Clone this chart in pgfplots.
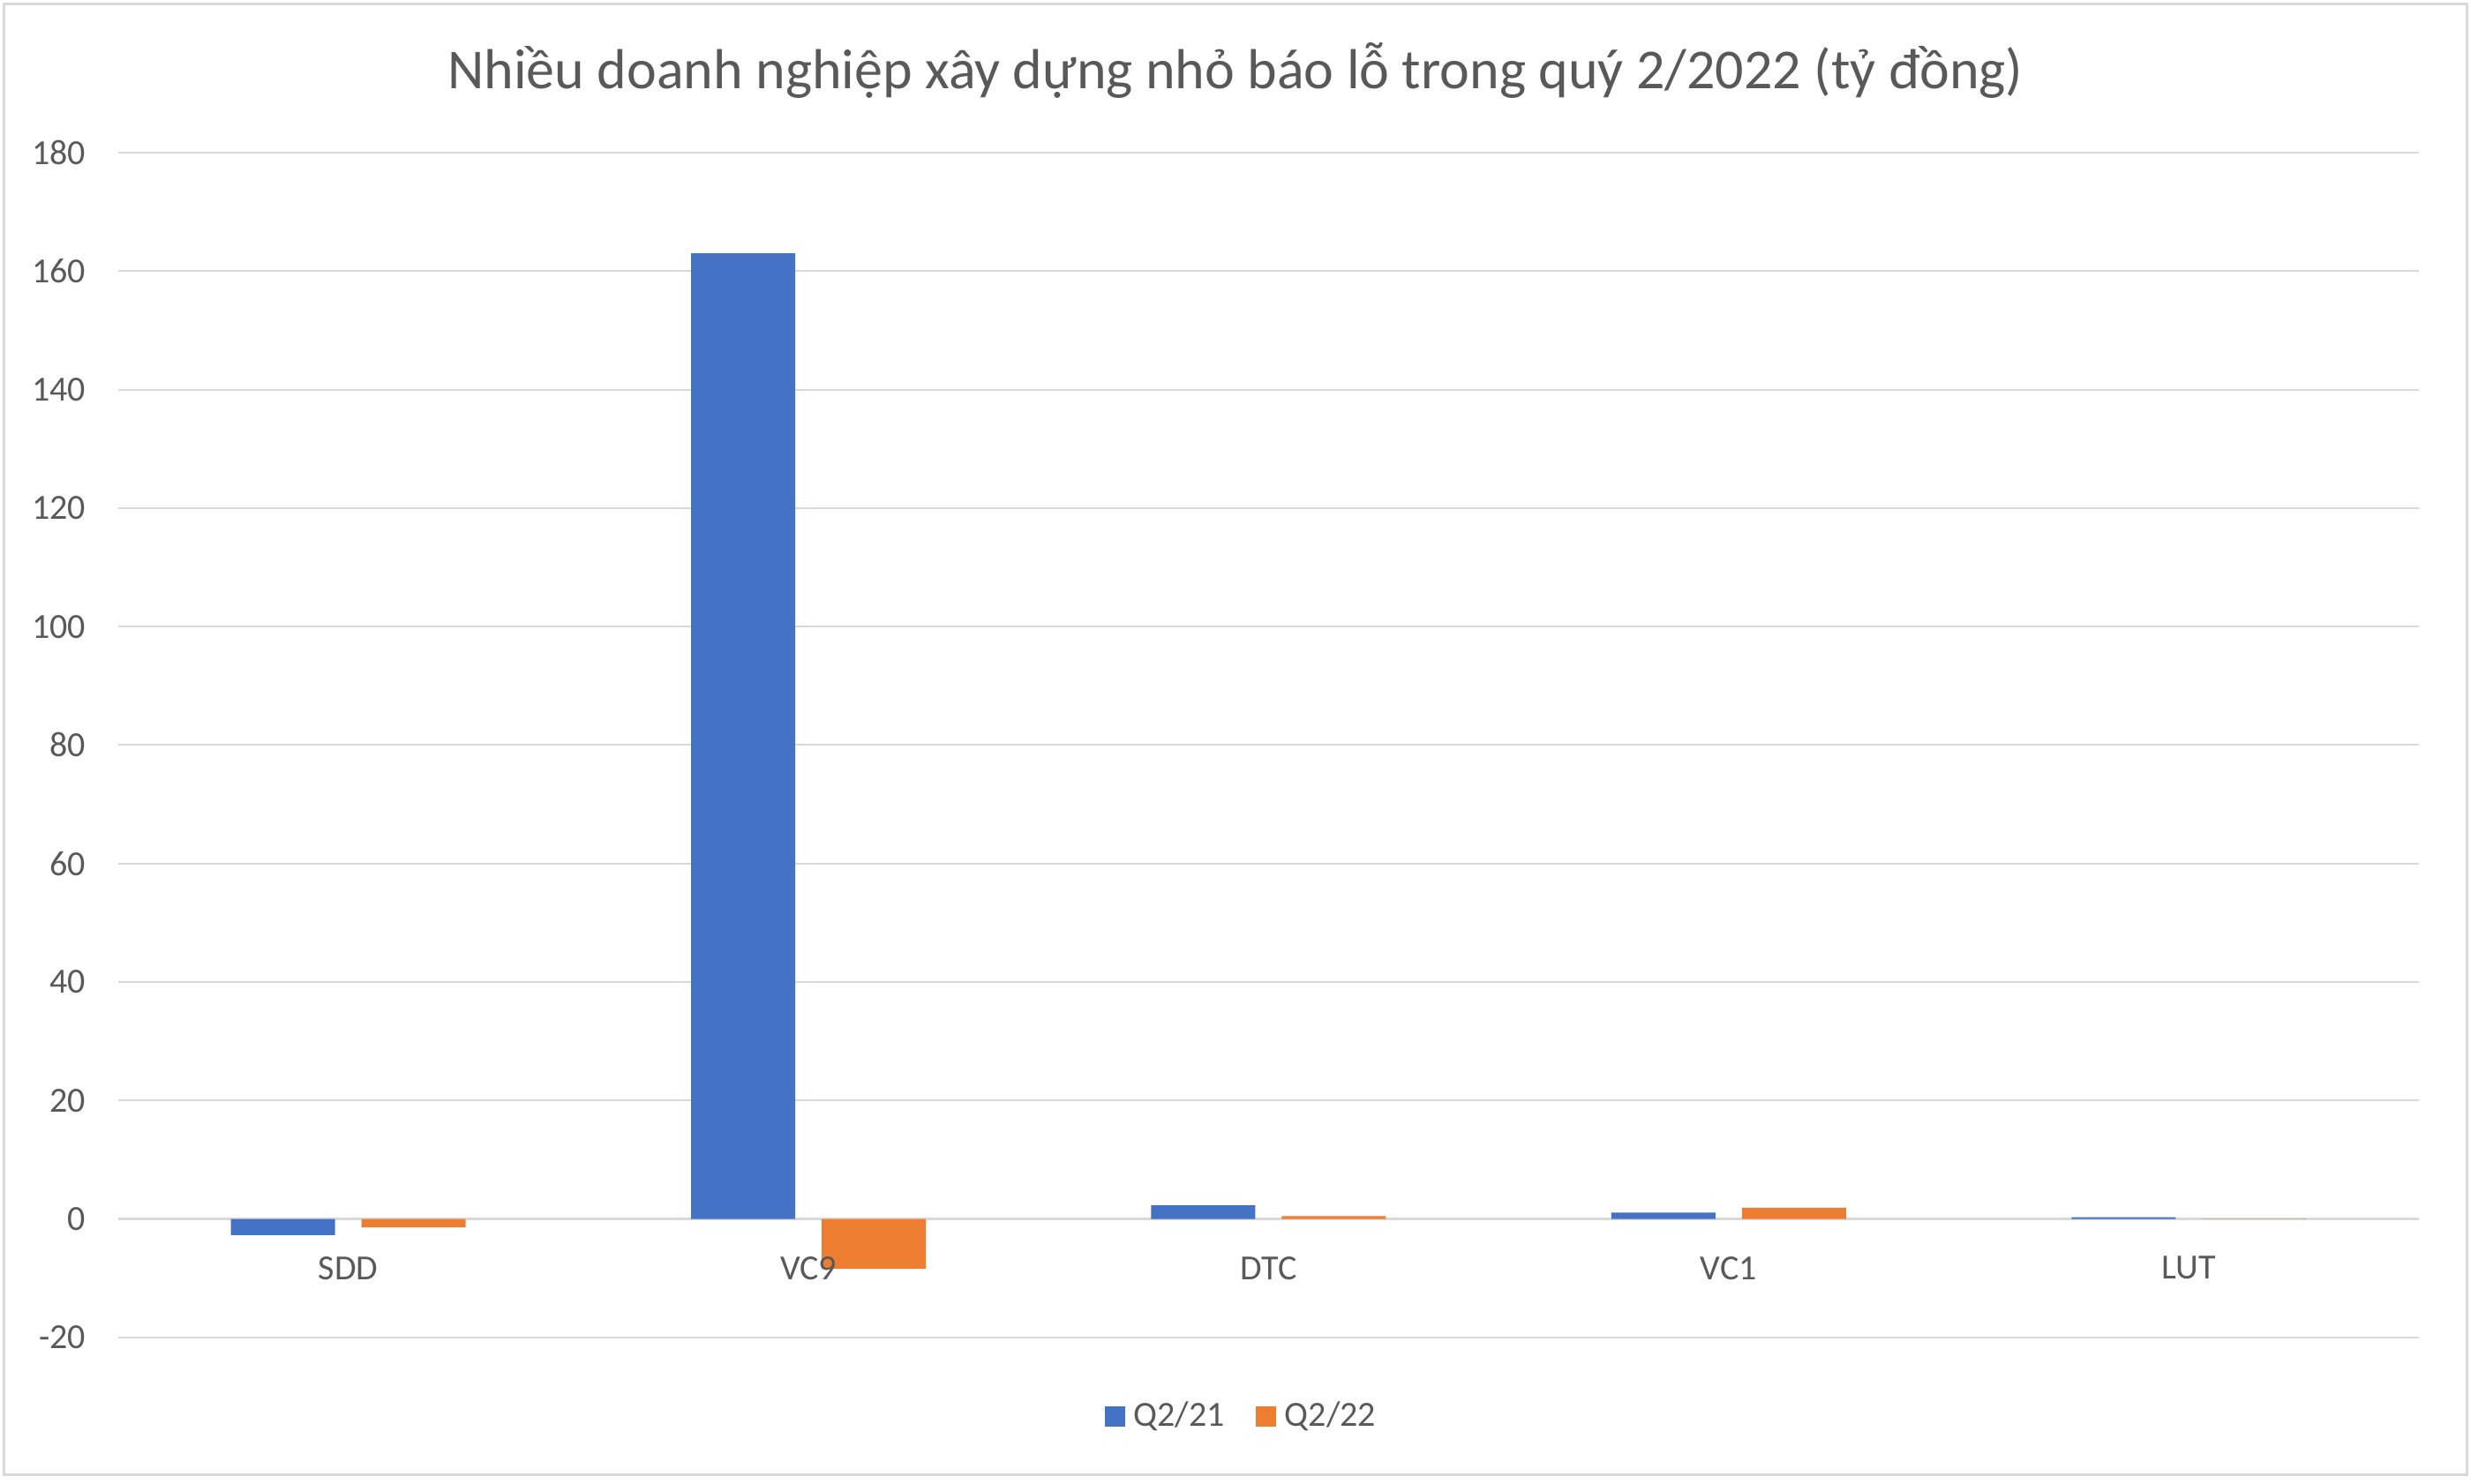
\documentclass[border=0pt]{standalone}
\usepackage{pgfplots}
\pgfplotsset{compat=1.18}
\usepackage{fontspec}
\setmainfont{Carlito}
\definecolor{xlblue}{HTML}{4472C4}
\definecolor{xlorange}{HTML}{ED7D31}
\definecolor{xlgrid}{HTML}{D9D9D9}
\definecolor{xltext}{HTML}{595959}
\tikzset{cat/.style={font=\fontsize{8}{9.6}\selectfont, text=xltext, anchor=center,
		inner sep=0pt, yshift=-11.1pt}}
\begin{document}
\begin{tikzpicture}
	\begin{axis}[
	scale only axis,
	width=521.4pt,
	height=268.6pt,
	ybar,
	bar width=23.6pt,
	xmin=-0.5, xmax=4.5,
	ymin=-20, ymax=180,
	ytick={-20,0,...,180},
	xtick=\empty,
	axis line style={draw=none},
	major tick length=0pt,
	ymajorgrids,
	grid style={xlgrid, line width=0.4pt},
	extra y ticks={0},
	extra y tick labels={},
	extra y tick style={grid style={xlgrid, line width=0.7pt}},
	/pgf/number format/assume math mode=true,
	tick label style={font=\fontsize{8}{9.6}\selectfont, text=xltext},
	yticklabel style={anchor=east, inner sep=0pt, xshift=-7.2pt},
	title={Nhiều doanh nghiệp xây dựng nhỏ báo lỗ trong quý 2/2022 (tỷ đồng)},
	title style={at={(axis description cs:0.4856,1)}, anchor=center, yshift=12.6pt,
		font=\fontsize{12.8}{15}\selectfont, text=xltext},
	legend style={at={(axis description cs:0.4896,-0.067)}, anchor=center,
		draw=none, fill=none, legend columns=-1,
		font=\fontsize{8}{9.6}\selectfont, text=xltext,
		/tikz/every even column/.append style={column sep=5pt}},
	legend image code/.code={\fill[#1] (0pt,-2.3pt) rectangle (4.6pt,2.3pt);},
	]
	% Q2/21
	\addplot+[ybar, bar shift=-14.8pt, fill=xlblue, draw=none] coordinates {
		(0,-2.7) (1,163) (2,2.3) (3,1.1) (4,0.3)};
	% Q2/22
	\addplot+[ybar, bar shift=14.8pt, fill=xlorange, draw=none] coordinates {
		(0,-1.4) (1,-8.4) (2,0.5) (3,1.9) (4,0.05)};
	\legend{Q2/21, Q2/22}
	% category names sit just under the zero line, over the bars
	\node[cat] at (axis cs:0,0) {SDD};
	\node[cat] at (axis cs:1,0) {VC9};
	\node[cat] at (axis cs:2,0) {DTC};
	\node[cat] at (axis cs:3,0) {VC1};
	\node[cat] at (axis cs:4,0) {LUT};
	\end{axis}
	% chart frame; picture size follows the reference (2800x1682 px at 5 px/pt)
	\draw[xlgrid, line width=0.6pt] (-25.8pt,-31.2pt) rectangle (532.2pt,302.2pt);
	\path (-26.8pt,-33.2pt) rectangle (533.2pt,303.2pt);
\end{tikzpicture}
\end{document}
